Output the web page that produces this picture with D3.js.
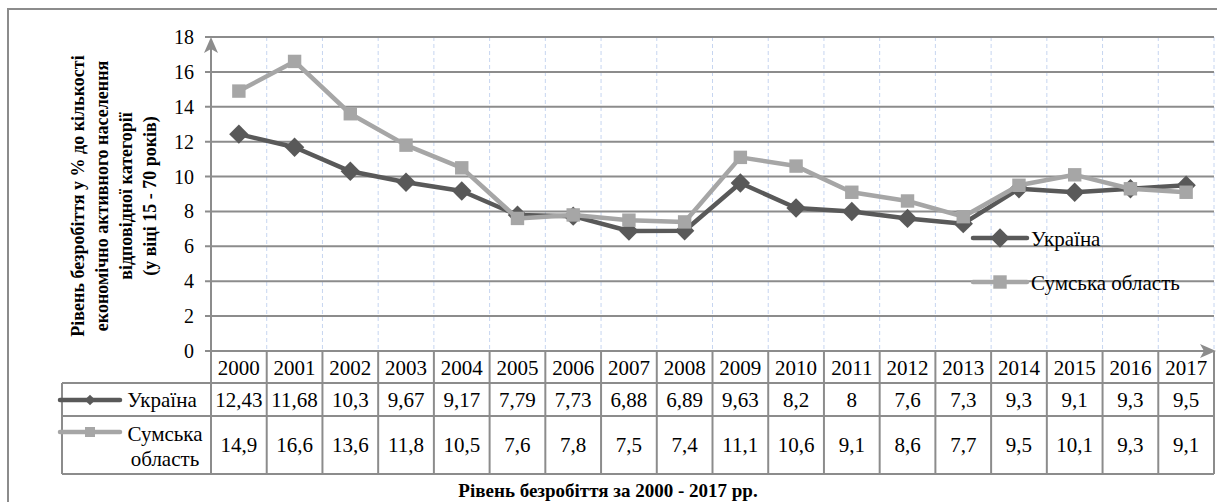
<!DOCTYPE html>
<html>
<head>
<meta charset="utf-8">
<script src="https://d3js.org/d3.v7.min.js"></script>
<style>
body { margin: 0; background: #fff; }
</style>
</head>
<body>
<svg width="1217" height="502" font-family="'Liberation Serif', 'DejaVu Serif', serif"></svg>
<script>
var years = ["2000","2001","2002","2003","2004","2005","2006","2007","2008","2009","2010","2011","2012","2013","2014","2015","2016","2017"];
var ukraine = [12.43, 11.68, 10.3, 9.67, 9.17, 7.79, 7.73, 6.88, 6.89, 9.63, 8.2, 8, 7.6, 7.3, 9.3, 9.1, 9.3, 9.5];
var sumy = [14.9, 16.6, 13.6, 11.8, 10.5, 7.6, 7.8, 7.5, 7.4, 11.1, 10.6, 9.1, 8.6, 7.7, 9.5, 10.1, 9.3, 9.1];
var yTicks = [0, 2, 4, 6, 8, 10, 12, 14, 16, 18];
var seriesNames = ["Україна", "Сумська область"];
var yTitle = ["Рівень безробіття у % до кількості", "економічно активного населення", "відповідної категорії", "(у віці 15 - 70 років)"];
var chartTitle = "Рівень безробіття за 2000 - 2017 рр.";

var svg = d3.select("svg");
var gridCol = "#8c8c8c";
var darkCol = "#595959", lightCol = "#a6a6a6";

var x = d3.scaleBand().domain(years).range([211, 1214]);
var y = d3.scaleLinear().domain([0, 18]).range([351, 37]);

// outer frame
svg.append("rect").attr("x", 8).attr("y", 9).attr("width", 1220).attr("height", 500)
  .attr("fill", "none").attr("stroke", gridCol).attr("stroke-width", 2);

// dashed vertical grid
svg.selectAll("line.vgrid").data(years).enter().append("line")
  .attr("x1", function (d) { return x(d) + x.bandwidth(); })
  .attr("x2", function (d) { return x(d) + x.bandwidth(); })
  .attr("y1", y(18)).attr("y2", y(0))
  .attr("stroke", "#c6d5f0").attr("stroke-width", 1).attr("stroke-dasharray", "4,3");

// horizontal grid + ticks
svg.selectAll("line.hgrid").data(yTicks.filter(function (d) { return d > 0; })).enter().append("line")
  .attr("x1", 205).attr("x2", 1214)
  .attr("y1", function (d) { return y(d); }).attr("y2", function (d) { return y(d); })
  .attr("stroke", gridCol).attr("stroke-width", 2);
svg.append("line").attr("x1", 205).attr("x2", 211).attr("y1", y(0)).attr("y2", y(0))
  .attr("stroke", gridCol).attr("stroke-width", 2);

svg.selectAll("text.ytick").data(yTicks).enter().append("text")
  .attr("x", 194).attr("y", function (d) { return y(d) + 7; })
  .attr("text-anchor", "end").attr("font-size", 20)
  .text(function (d) { return d; });

// axes with arrowheads
svg.append("line").attr("x1", 211).attr("x2", 211).attr("y1", y(0)).attr("y2", 45)
  .attr("stroke", gridCol).attr("stroke-width", 2);
svg.append("path").attr("d", "M211,37 L218,53 L211,49 L204,53 Z").attr("fill", gridCol);
svg.append("line").attr("x1", 211).attr("x2", 1208).attr("y1", y(0)).attr("y2", y(0))
  .attr("stroke", gridCol).attr("stroke-width", 2);
svg.append("path").attr("d", "M1216,351 L1200,344 L1204,351 L1200,358 Z").attr("fill", gridCol);

// y title
var yt = svg.append("text").attr("transform", "translate(84,196) rotate(-90)")
  .attr("text-anchor", "middle").attr("font-size", 18).attr("font-weight", "bold");
yTitle.forEach(function (t, i) {
  yt.append("tspan").attr("x", 0).attr("dy", i === 0 ? 0 : 24).text(t);
});

// series
function cx(i) { return x(years[i]) + x.bandwidth() / 2; }
var line = d3.line().x(function (d, i) { return cx(i); }).y(function (d) { return y(d); });
var diamond = d3.symbol().type(d3.symbolDiamond2).size(240);
var square = d3.symbol().type(d3.symbolSquare).size(180);

function drawSeries(data, col, sym) {
  svg.append("path").datum(data).attr("d", line)
    .attr("fill", "none").attr("stroke", col).attr("stroke-width", 4.5).attr("stroke-linejoin", "round");
  svg.selectAll(null).data(data).enter().append("path")
    .attr("d", sym)
    .attr("transform", function (d, i) { return "translate(" + cx(i) + "," + y(d) + ")"; })
    .attr("fill", col);
}
drawSeries(ukraine, darkCol, diamond);
drawSeries(sumy, lightCol, square);

// legend inside plot
function legendKey(px, py, col, sym, sc, w) {
  svg.append("line").attr("x1", px - w).attr("x2", px + w).attr("y1", py).attr("y2", py)
    .attr("stroke", col).attr("stroke-width", 4.5).attr("stroke-linecap", "round");
  svg.append("path").attr("d", sym).attr("fill", col)
    .attr("transform", "translate(" + px + "," + py + ") scale(" + sc + ")");
}
legendKey(1000, 238, darkCol, diamond, 1, 27);
legendKey(1000, 282, lightCol, square, 1, 27);
svg.append("text").attr("x", 1031).attr("y", 246).attr("font-size", 21).text(seriesNames[0]);
svg.append("text").attr("x", 1031).attr("y", 290).attr("font-size", 21).text(seriesNames[1]);

// data table
var rows = [351, 383, 416, 474];
var tb = svg.append("g").attr("stroke", gridCol).attr("stroke-width", 2);
tb.append("line").attr("x1", 62).attr("x2", 1214).attr("y1", rows[1]).attr("y2", rows[1]);
tb.append("line").attr("x1", 62).attr("x2", 1214).attr("y1", rows[2]).attr("y2", rows[2]);
tb.append("line").attr("x1", 62).attr("x2", 1214).attr("y1", rows[3]).attr("y2", rows[3]);
tb.append("line").attr("x1", 62).attr("x2", 62).attr("y1", rows[1]).attr("y2", rows[3]);
tb.selectAll(null).data(years).enter().append("line")
  .attr("x1", function (d) { return x(d); }).attr("x2", function (d) { return x(d); })
  .attr("y1", rows[0]).attr("y2", rows[3]);
tb.append("line").attr("x1", 1214).attr("x2", 1214).attr("y1", rows[0]).attr("y2", rows[3]);

function fmt(v) { return String(v).replace(".", ","); }
svg.selectAll("text.yr").data(years).enter().append("text")
  .attr("x", function (d) { return x(d) + x.bandwidth() / 2; }).attr("y", 375)
  .attr("text-anchor", "middle").attr("font-size", 21).text(function (d) { return d; });
svg.selectAll("text.ua").data(ukraine).enter().append("text")
  .attr("x", function (d, i) { return cx(i); }).attr("y", 407)
  .attr("text-anchor", "middle").attr("font-size", 21).text(fmt);
svg.selectAll("text.su").data(sumy).enter().append("text")
  .attr("x", function (d, i) { return cx(i); }).attr("y", 452)
  .attr("text-anchor", "middle").attr("font-size", 21).text(fmt);

legendKey(90, 400, darkCol, diamond, 0.55, 30);
legendKey(90, 432, lightCol, square, 0.75, 30);
svg.append("text").attr("x", 162).attr("y", 407).attr("text-anchor", "middle").attr("font-size", 21).text("Україна");
svg.append("text").attr("x", 165).attr("y", 441).attr("text-anchor", "middle").attr("font-size", 21).text("Сумська");
svg.append("text").attr("x", 165).attr("y", 466).attr("text-anchor", "middle").attr("font-size", 21).text("область");

// chart title
svg.append("text").attr("x", 608).attr("y", 497).attr("text-anchor", "middle")
  .attr("font-size", 19).attr("font-weight", "bold").text(chartTitle);
</script>
</body>
</html>
